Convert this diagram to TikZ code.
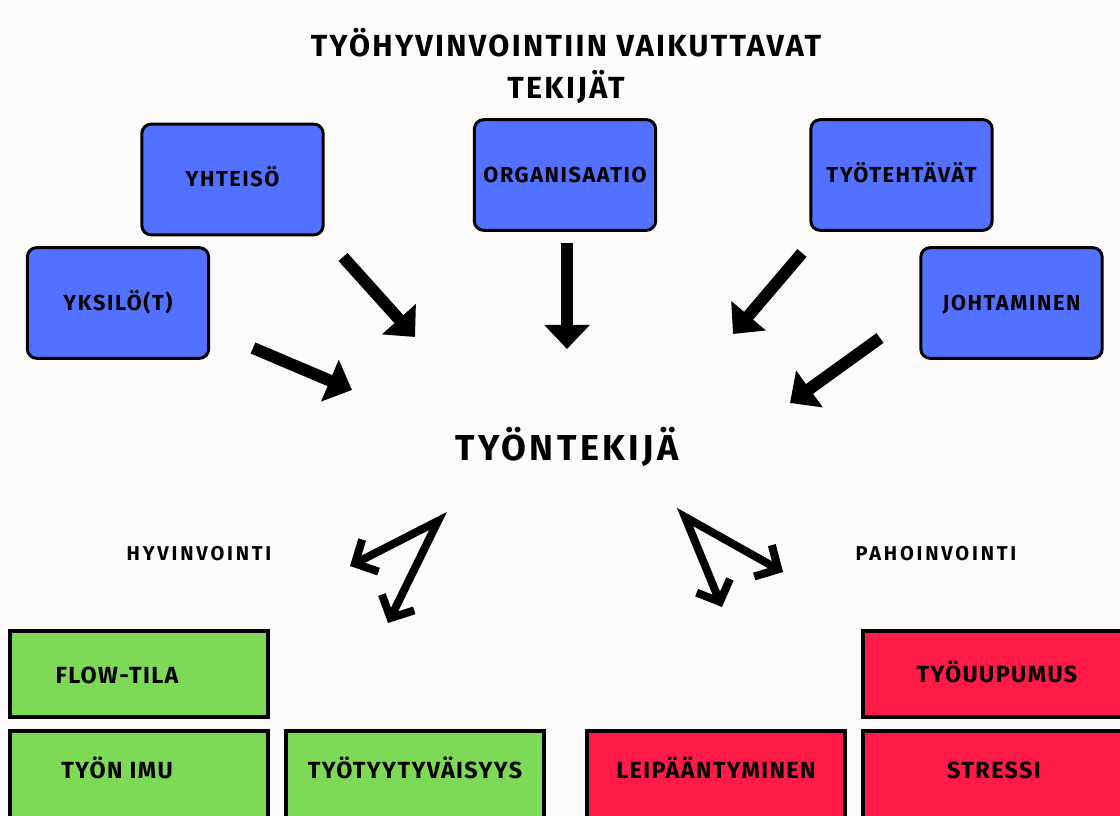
\documentclass[tikz,border=0pt]{standalone}
\usepackage{fontspec}
\setmainfont{Fira Sans}
\newfontfamily\titlefont[LetterSpace=7.5]{Fira Sans}
\newfontfamily\boxfont[LetterSpace=7.3]{Fira Sans}
\newfontfamily\bigfont[LetterSpace=9.5]{Fira Sans}
\newfontfamily\sidefont[LetterSpace=14]{Fira Sans}
\newfontfamily\outfont[LetterSpace=6]{Fira Sans}
\usetikzlibrary{arrows.meta}
\definecolor{bg}{HTML}{FCFBF9}
\definecolor{boxblue}{HTML}{5271FF}
\definecolor{boxgreen}{HTML}{7ED957}
\definecolor{boxred}{HTML}{FF1A48}
\tikzset{
  bluebox/.style={draw=black, line width=2.25pt, fill=boxblue, rounded corners=7pt,
    minimum width=136pt, minimum height=83pt, font=\boxfont\fontsize{16.3}{18}\selectfont\bfseries,
    inner sep=0pt, text height=11.2pt, text depth=0pt},
  flatbox/.style={draw=black, line width=3pt, minimum width=193pt, inner sep=0pt},
  gbox/.style={flatbox, fill=boxgreen},
  rbox/.style={flatbox, fill=boxred},
  btext/.style={font=\outfont\fontsize{17.5}{20}\selectfont\bfseries, inner sep=0pt, anchor=base},
  fatarrow/.style={line width=9pt, -{Triangle[length=18pt,width=33pt]}},
  splitarrow/.style={line width=6pt, line join=miter,
    {Straight Barb[length=13pt,width=27pt]}-{Straight Barb[length=13pt,width=27pt]}},
  sidelabel/.style={font=\sidefont\fontsize{15}{17}\selectfont\bfseries, inner sep=0pt, anchor=base}
}
\begin{document}
\begin{tikzpicture}[x=0.75pt,y=-0.75pt]
\fill[bg] (0,0) rectangle (1120,816);
\useasboundingbox (0,0) rectangle (1120,816);

% title
\node[font=\titlefont\fontsize{22.9}{32}\selectfont\bfseries, align=center, inner sep=0pt] (title) at (566,66)
  {TYÖHYVINVOINTIIN VAIKUTTAVAT\\TEKIJÄT};

% factor boxes
\node[bluebox] (yhteiso) at (232.5,179.5) {YHTEISÖ};
\node[bluebox] (org) at (565,175) {ORGANISAATIO};
\node[bluebox] (tehtavat) at (901.5,175) {TYÖTEHTÄVÄT};
\node[bluebox] (yksilo) at (118,303) {YKSILÖ(T)};
\node[bluebox] (johtaminen) at (1011.5,303) {JOHTAMINEN};

% employee
\node[font=\bigfont\fontsize{27}{30}\selectfont\bfseries, inner sep=0pt] (tyontekija) at (567,447) {TYÖNTEKIJÄ};

% fat arrows
\coordinate (a1s) at (343,257); \coordinate (a1e) at (415,337);
\coordinate (a2s) at (253,348); \coordinate (a2e) at (352,390);
\coordinate (a3s) at (567,243); \coordinate (a3e) at (567,349);
\coordinate (a4s) at (802,253); \coordinate (a4e) at (733,334);
\coordinate (a5s) at (880,338); \coordinate (a5e) at (790,403);
\draw[fatarrow] (a1s) -- (a1e);
\draw[fatarrow] (a2s) -- (a2e);
\draw[fatarrow] (a3s) -- (a3e);
\draw[fatarrow] (a4s) -- (a4e);
\draw[fatarrow] (a5s) -- (a5e);

% side labels
\node[sidelabel] (hyvin) at (199,560) {HYVINVOINTI};
\node[sidelabel] (pahoin) at (936,560) {PAHOINVOINTI};

% split arrows
\coordinate (lapex) at (438,521); \coordinate (l1) at (350,566); \coordinate (l2) at (388,623);
\coordinate (rapex) at (685,517); \coordinate (r1) at (783,572); \coordinate (r2) at (722,607);
\draw[splitarrow] (l1) -- (lapex) -- (l2);
\draw[splitarrow] (r2) -- (rapex) -- (r1);

% outcome boxes
\node[gbox, minimum height=64.5pt] (flowbox) at (139,674) {};
\node[gbox, minimum height=90pt] (imubox) at (139,791) {};
\node[gbox, minimum height=90pt] (tyytbox) at (415,791) {};
\node[rbox, minimum height=90pt] (leipbox) at (716,791) {};
\node[rbox, minimum height=64.5pt, minimum width=197pt] (uupubox) at (994,674) {};
\node[rbox, minimum height=90pt, minimum width=197pt] (stressbox) at (994,791) {};

\node[btext] (flow) at (117,683) {FLOW-TILA};
\node[btext] (imu) at (117,778) {TYÖN IMU};
\node[btext] (tyyt) at (415,778) {TYÖTYYTYVÄISYYS};
\node[btext] (leip) at (716,778) {LEIPÄÄNTYMINEN};
\node[btext] (uupu) at (997,682) {TYÖUUPUMUS};
\node[btext] (stress) at (994,778) {STRESSI};
\end{tikzpicture}
\end{document}
